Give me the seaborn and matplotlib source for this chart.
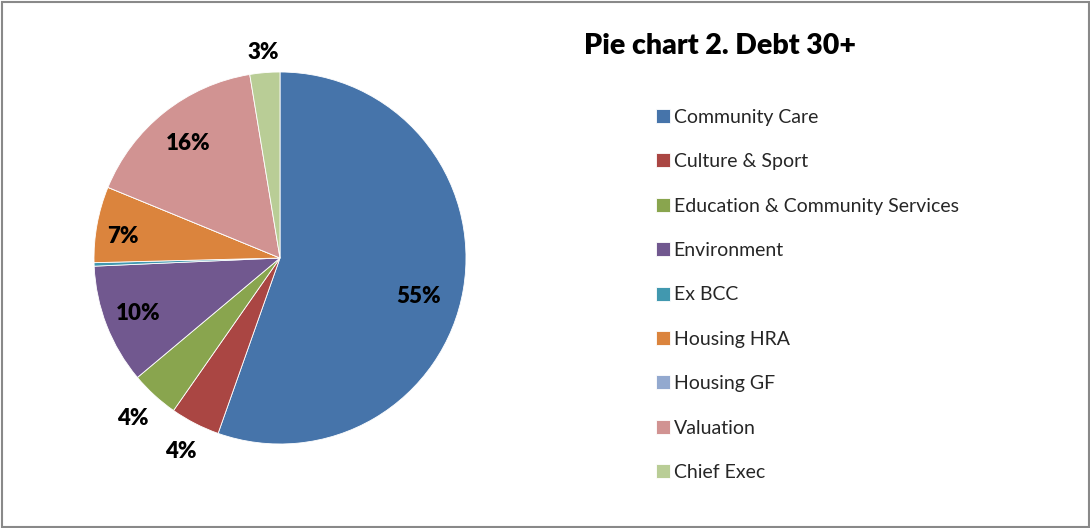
import matplotlib
matplotlib.use("Agg")
import matplotlib.pyplot as plt
from matplotlib.patches import Rectangle
import numpy as np
import seaborn as sns

# Debt over 30 days, share by directorate (%)
categories = ["Community Care", "Culture & Sport", "Education & Community Services",
              "Environment", "Ex BCC", "Housing HRA", "Housing GF", "Valuation", "Chief Exec"]
shares = [55.4, 4.3, 4.2, 10.4, 0.3, 6.6, 0.0, 16.2, 2.6]
colors = ["#4674AA", "#AA4643", "#89A54E", "#71588F", "#4198AF",
          "#DB843D", "#93A9CF", "#D19392", "#B9CD96"]
title = "Pie chart 2. Debt 30+"

sns.set_theme(style="white")
plt.rcParams["font.family"] = ["Lato", "DejaVu Sans"]

fig = plt.figure(figsize=(10.9, 5.28), dpi=100)
W, H = 1090, 528

# pie axes: centre (280, 258), radius 186 px
cx, cy, r = 280, 258, 186
ax = fig.add_axes([(cx - r) / W, 1 - (cy + r) / H, 2 * r / W, 2 * r / H])
wedges, _ = ax.pie(shares, colors=colors, startangle=90, counterclock=False,
                   wedgeprops=dict(edgecolor="white", linewidth=0.6))
ax.set_xlim(-1, 1)
ax.set_ylim(-1, 1)
ax.set_aspect("equal")
ax.axis("off")

# percentage labels: radial distance and angular nudge per slice
label_radius = [0.775, 1.17, 1.17, 0.82, None, 0.85, None, 0.79, 1.11]
label_nudge = [5.6, 0, 0, 0, 0, -2.7, 0, 0, 0]
cum = np.cumsum([0] + shares)
total = sum(shares)
for i, (v, rr) in enumerate(zip(shares, label_radius)):
    if rr is None or v < 1:
        continue
    mid = (cum[i] + cum[i + 1]) / 2 / total * 360 + label_nudge[i]
    ang = np.deg2rad(90 - mid)
    ax.text(rr * np.cos(ang), rr * np.sin(ang), f"{v:.0f}%", ha="center", va="center",
            fontsize=16, fontweight="heavy", color="black", clip_on=False)

fig.text(584 / W, 1 - 46 / H, title, fontsize=20.5, fontweight="heavy",
         ha="left", va="center", color="black")

leg = fig.legend(wedges, categories, loc="upper left",
                 bbox_to_anchor=(646 / W, 1 - 99 / H), frameon=False,
                 fontsize=14, handlelength=0.72, handleheight=0.72,
                 handletextpad=0.2, labelspacing=1.41, borderpad=0)

# outer frame
fig.patches.append(Rectangle((1.5 / W, 1.5 / H), 1 - 3 / W, 1 - 3 / H,
                             transform=fig.transFigure, fill=False,
                             edgecolor="#898989", linewidth=1.5))

fig.savefig("out.png", dpi=100)
